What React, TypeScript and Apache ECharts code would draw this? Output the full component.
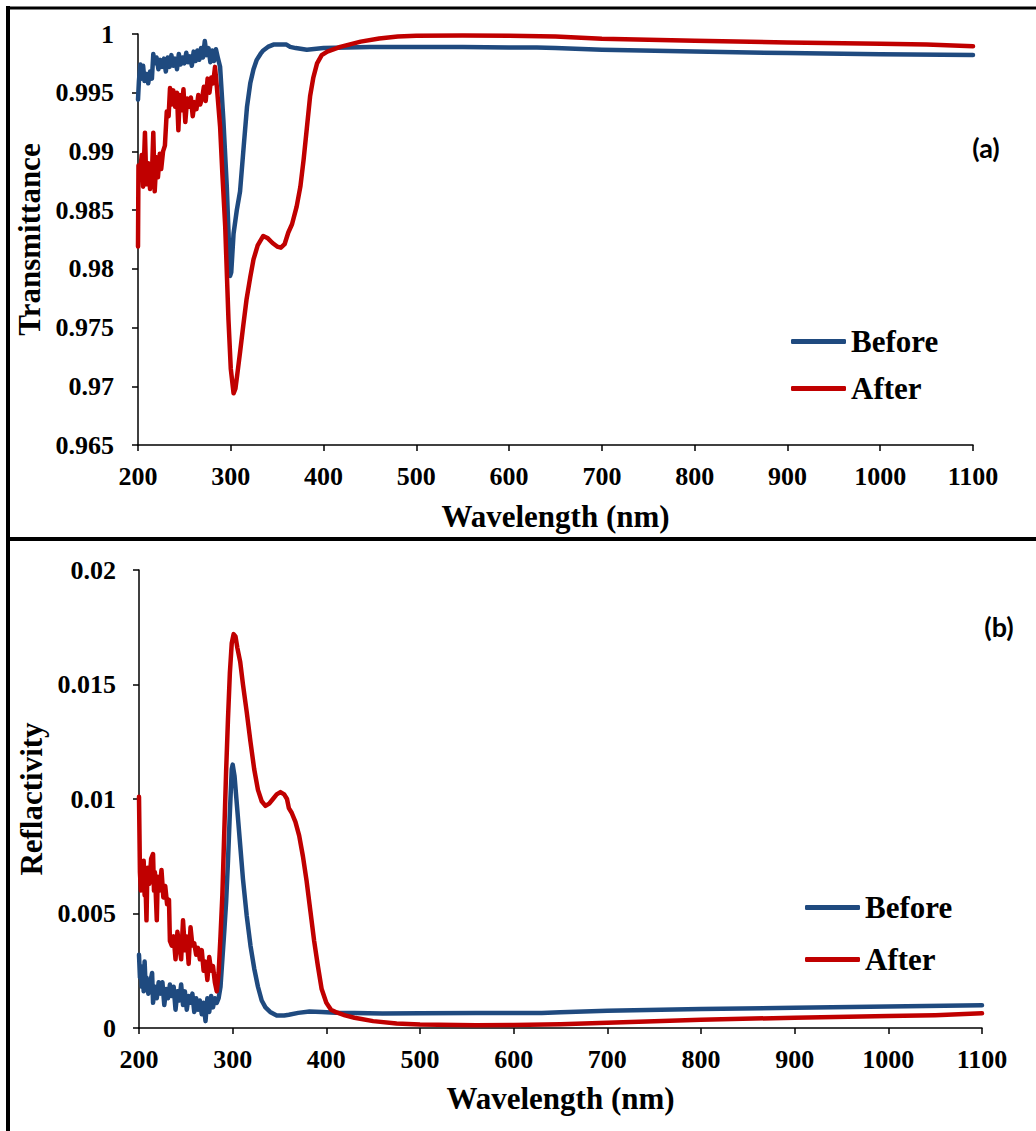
import React, { useEffect, useRef } from "react";
import * as echarts from "echarts";

// ---------- Data ----------
const xTicks = [200, 300, 400, 500, 600, 700, 800, 900, 1000, 1100];
const seriesNames = ["Before", "After"];

// (a) Transmittance - Before
const transBefore: [number, number][] = [
  [200, 0.9944], [201, 0.996], [202.5, 0.9974], [204, 0.9962], [205.5, 0.9973], [207, 0.996],
  [209, 0.9966], [211, 0.9958], [213, 0.9968], [215, 0.9962], [216.5, 0.9983], [218, 0.9975],
  [220, 0.998], [222, 0.997], [224, 0.9978], [226, 0.9972], [228, 0.9979], [230, 0.9968],
  [232, 0.998], [234, 0.9972], [236, 0.9982], [238, 0.9973], [240, 0.9979], [242, 0.997],
  [244, 0.9983], [246, 0.9974], [248, 0.998], [250, 0.9975], [252, 0.9984], [254, 0.9976],
  [256, 0.9981], [258, 0.9973], [260, 0.9985], [262, 0.9977], [264, 0.9986], [266, 0.9978],
  [268, 0.9988], [270, 0.998], [272, 0.9994], [274, 0.9982], [276, 0.9988], [278, 0.9976],
  [280, 0.9986], [282, 0.9977], [284, 0.9987], [286, 0.998], [288.5, 0.9972], [292, 0.9927],
  [295.7, 0.987], [299.3, 0.9794], [300.5, 0.9797], [303, 0.983], [306.5, 0.985], [310, 0.9866],
  [314, 0.9905], [317.5, 0.9938], [321, 0.9958], [324.5, 0.997], [328, 0.9978], [332, 0.9983],
  [335, 0.9986], [340, 0.9989], [346, 0.9991], [355, 0.9991], [360, 0.9991], [364, 0.9989],
  [370, 0.9988], [382, 0.99866], [400, 0.9988], [450, 0.9989], [500, 0.9989], [550, 0.9989],
  [600, 0.99885], [630, 0.99885], [650, 0.9988], [700, 0.99865], [800, 0.9985], [900, 0.99838],
  [1000, 0.99828], [1100, 0.99822],
];

// (a) Transmittance - After
const transAfter: [number, number][] = [
  [200, 0.9819], [200.5, 0.9888], [202, 0.988], [204, 0.9897], [205.5, 0.987], [207.5, 0.9916],
  [209, 0.9872], [211, 0.989], [213, 0.9868], [215, 0.988], [216.5, 0.9916], [218, 0.9866],
  [220, 0.9895], [221.5, 0.9878], [223.5, 0.9898], [225, 0.9885], [227, 0.99], [229, 0.9905],
  [231, 0.9934], [233, 0.993], [234.5, 0.9954], [236, 0.994], [238, 0.9952], [240, 0.9938],
  [242, 0.995], [243.5, 0.9918], [245, 0.9948], [247, 0.9935], [249, 0.9953], [251, 0.9925],
  [253, 0.9945], [255, 0.9938], [257, 0.9946], [259, 0.993], [261, 0.9942], [263, 0.9936],
  [265, 0.9948], [267, 0.994], [269, 0.9945], [271, 0.9955], [273, 0.9943], [275, 0.9962],
  [277, 0.995], [279, 0.9963], [281, 0.9958], [283, 0.9972], [285, 0.9955], [288.5, 0.9921],
  [291, 0.988], [294, 0.9836], [297.5, 0.9757], [300, 0.9715], [303, 0.9694], [305, 0.9698],
  [307, 0.971], [310, 0.9729], [313.5, 0.9752], [317, 0.9774], [321, 0.9793], [324.5, 0.9808],
  [329, 0.982], [335, 0.9828], [340, 0.9826], [345, 0.9822], [350, 0.9819], [354, 0.9818],
  [358, 0.9821], [362, 0.9831], [366, 0.9838], [371, 0.9853], [375, 0.987], [378.5, 0.9893],
  [382, 0.992], [385.5, 0.9947], [389, 0.9963], [393, 0.9975], [398, 0.9982], [404, 0.9985],
  [418, 0.9989], [440, 0.99935], [460, 0.99962], [480, 0.99978], [500, 0.99985], [550, 0.99987],
  [600, 0.99985], [650, 0.99978], [700, 0.9996], [800, 0.99943], [900, 0.99928], [1000, 0.99918],
  [1050, 0.9991], [1100, 0.99895],
];

// (b) Reflactivity - Before
const reflBefore: [number, number][] = [
  [200, 0.0032], [201, 0.0022], [202, 0.0027], [203, 0.0018], [204, 0.0024], [205, 0.0016],
  [206, 0.0029], [207, 0.0019], [208, 0.0022], [210, 0.0015], [212, 0.002], [214, 0.0024],
  [215, 0.0011], [217, 0.0018], [219, 0.0013], [221, 0.002], [223, 0.0015], [225, 0.002],
  [227, 0.001], [229, 0.0017], [231, 0.0013], [233, 0.0019], [235, 0.0014], [237, 0.0018],
  [239, 0.0008], [241, 0.0016], [243, 0.0012], [245, 0.0019], [247, 0.001], [249, 0.0016],
  [251, 0.0008], [253, 0.0014], [255, 0.0011], [257, 0.0015], [259, 0.0007], [261, 0.0013],
  [263, 0.0008], [265, 0.0012], [267, 0.0006], [269, 0.0011], [271, 0.0003], [273, 0.0013],
  [275, 0.0007], [277, 0.0014], [279, 0.0009], [281, 0.0013], [283, 0.0011], [285, 0.0013],
  [287, 0.0018], [289, 0.003], [291, 0.0042], [293, 0.0055], [295, 0.0073], [297, 0.0094],
  [299, 0.0113], [300, 0.0115], [302, 0.011], [304, 0.01], [306, 0.009], [308, 0.008],
  [311, 0.0065], [315, 0.0049], [319, 0.0036], [323, 0.0026], [327, 0.0018], [331, 0.0012],
  [335, 0.0009], [340, 0.0007], [347, 0.00055], [355, 0.00055], [360, 0.00058], [370, 0.00066],
  [382, 0.00072], [395, 0.0007], [410, 0.00067], [430, 0.00065], [460, 0.00063], [500, 0.00064],
  [560, 0.00066], [600, 0.00066], [630, 0.00066], [650, 0.00069], [700, 0.00075], [800, 0.00083],
  [900, 0.00088], [1000, 0.00094], [1100, 0.00099],
];

// (b) Reflactivity - After
const reflAfter: [number, number][] = [
  [200, 0.0101], [201, 0.0068], [202, 0.006], [203, 0.0072], [204, 0.0065], [205, 0.0073],
  [206, 0.0058], [207, 0.0062], [208, 0.0047], [209, 0.007], [211, 0.0063], [213, 0.0074],
  [215, 0.0076], [216, 0.006], [217, 0.0068], [219, 0.0047], [220, 0.0066], [222, 0.006],
  [224, 0.0069], [226, 0.0057], [228, 0.0062], [230, 0.0054], [232, 0.0056], [233, 0.0038],
  [235, 0.0036], [237, 0.004], [239, 0.003], [241, 0.0042], [243, 0.0036], [245, 0.003],
  [247, 0.0047], [249, 0.0034], [251, 0.004], [253, 0.0028], [255, 0.0044], [257, 0.0036],
  [259, 0.0037], [261, 0.0032], [263, 0.0035], [265, 0.003], [267, 0.0034], [269, 0.0025],
  [271, 0.0029], [273, 0.0021], [275, 0.0031], [277, 0.0025], [279, 0.0027], [281, 0.002],
  [283, 0.0016], [285, 0.0024], [287, 0.004], [289, 0.0058], [291, 0.0085], [293, 0.0112],
  [295, 0.0135], [297, 0.0155], [299, 0.0168], [301, 0.0172], [303, 0.0171], [305, 0.0166],
  [308, 0.016], [311, 0.015], [315, 0.0138], [319, 0.0125], [323, 0.0113], [327, 0.0104],
  [331, 0.0099], [335, 0.0097], [339, 0.0098], [343, 0.01], [347, 0.0102], [351, 0.0103],
  [355, 0.0102], [358, 0.01], [360, 0.0096], [363, 0.0094], [367, 0.009], [371, 0.0084],
  [375, 0.0075], [379, 0.0064], [383, 0.0051], [387, 0.0038], [391, 0.0027], [395, 0.0017],
  [400, 0.0011], [405, 0.0008], [411, 0.00068], [420, 0.00055], [430, 0.00045], [450, 0.0003],
  [475, 0.0002], [500, 0.00015], [560, 0.00012], [600, 0.00013], [650, 0.00016], [700, 0.00023],
  [800, 0.00036], [900, 0.00045], [1000, 0.00052], [1050, 0.00056], [1100, 0.00064],
];

const BLUE = "#1F4A7F";
const RED = "#C00000";
const SERIF = "Liberation Serif";

export default function App() {
  const ref = useRef<HTMLDivElement>(null);

  useEffect(() => {
    if (!ref.current) return;
    const chart = echarts.init(ref.current, undefined, { renderer: "svg" });

    const axisLine = { show: true, lineStyle: { color: "#000", width: 1.5 } };
    const axisTick = { show: true, length: 6, lineStyle: { color: "#000", width: 1.5 } };
    const tickLabel = { fontFamily: SERIF, fontWeight: "bold", fontSize: 26, color: "#000" };
    const nameStyle = { fontFamily: SERIF, fontWeight: "bold", fontSize: 31, color: "#000" };
    const fmtY = (v: number) => String(Math.round(v * 1000) / 1000);
    const fmtX = (v: number) => String(Math.round(v));

    const xAxisBase = (gridIndex: number, gap: number) => ({
      type: "value",
      gridIndex,
      min: xTicks[0],
      max: xTicks[xTicks.length - 1],
      interval: 100,
      name: "Wavelength (nm)",
      nameLocation: "middle",
      nameGap: gap,
      nameTextStyle: nameStyle,
      axisLine,
      axisTick,
      axisLabel: { ...tickLabel, margin: 18, formatter: fmtX },
      splitLine: { show: false },
    });

    const legendBase = (left: number, top: number, gap: number) => ({
      data: seriesNames,
      orient: "vertical",
      left,
      top,
      padding: 0,
      itemWidth: 55,
      itemHeight: 5,
      itemGap: gap,
      icon: "roundRect",
      selectedMode: false,
      textStyle: { fontFamily: SERIF, fontWeight: "bold", fontSize: 31, color: "#000", lineHeight: 31 },
    });

    const lineSeries = (name: string, data: [number, number][], color: string, idx: number) => ({
      type: "line",
      name,
      data,
      xAxisIndex: idx,
      yAxisIndex: idx,
      showSymbol: false,
      symbol: "none",
      color,
      lineStyle: { color, width: 4.5, cap: "round", join: "round" },
      emphasis: { disabled: true },
      z: name === "After" ? 3 : 2,
    });

    chart.setOption({
      animation: false,
      backgroundColor: "#fff",
      grid: [
        { left: 138, top: 34, width: 835, height: 411 },
        { left: 139, top: 570, width: 843, height: 458 },
      ],
      xAxis: [xAxisBase(0, 56), xAxisBase(1, 55)],
      yAxis: [
        {
          type: "value",
          gridIndex: 0,
          min: 0.965,
          max: 1,
          interval: 0.005,
          name: "Transmittance",
          nameLocation: "middle",
          nameGap: 89,
          nameTextStyle: nameStyle,
          axisLine,
          axisTick,
          axisLabel: { ...tickLabel, margin: 24, formatter: fmtY },
          splitLine: { show: false },
        },
        {
          type: "value",
          gridIndex: 1,
          min: 0,
          max: 0.02,
          interval: 0.005,
          name: "Reflactivity",
          nameLocation: "middle",
          nameGap: 90,
          nameTextStyle: nameStyle,
          axisLine,
          axisTick,
          axisLabel: { ...tickLabel, margin: 23, formatter: fmtY },
          splitLine: { show: false },
        },
      ],
      legend: [legendBase(791, 326, 16), legendBase(805, 892, 21)],
      series: [
        lineSeries("Before", transBefore, BLUE, 0),
        lineSeries("After", transAfter, RED, 0),
        lineSeries("Before", reflBefore, BLUE, 1),
        lineSeries("After", reflAfter, RED, 1),
      ],
      graphic: [
        { type: "line", shape: { x1: 8, y1: 6, x2: 8, y2: 1131 }, style: { stroke: "#000", lineWidth: 4 } },
        { type: "line", shape: { x1: 6, y1: 8, x2: 1036, y2: 8 }, style: { stroke: "#000", lineWidth: 3 } },
        { type: "line", shape: { x1: 6, y1: 539, x2: 1036, y2: 539 }, style: { stroke: "#000", lineWidth: 4 } },
        {
          type: "text",
          x: 986,
          y: 147,
          style: {
            text: "(a)",
            fontFamily: "Lato",
            fontWeight: "bold",
            fontSize: 27,
            fill: "#000",
            align: "center",
            verticalAlign: "middle",
          },
        },
        {
          type: "text",
          x: 999,
          y: 626,
          style: {
            text: "(b)",
            fontFamily: "Lato",
            fontWeight: "bold",
            fontSize: 27,
            fill: "#000",
            align: "center",
            verticalAlign: "middle",
          },
        },
      ],
    });

    return () => chart.dispose();
  }, []);

  return (
    <div
      ref={ref}
      style={{ position: "absolute", left: 0, top: 0, width: 1036, height: 1131 }}
    />
  );
}
